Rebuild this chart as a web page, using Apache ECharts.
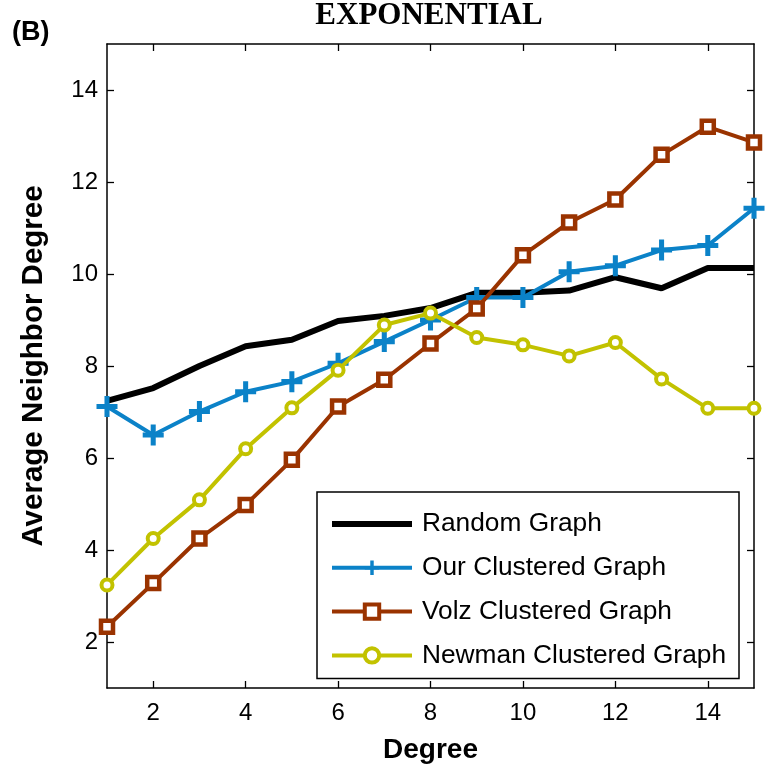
<!DOCTYPE html>
<html>
<head>
<meta charset="utf-8">
<script src="https://cdn.jsdelivr.net/npm/echarts@6/dist/echarts.min.js"></script>
<style>
html,body{margin:0;padding:0;background:#fff;}
#chart{width:767px;height:772px;}
</style>
</head>
<body>
<div id="chart"></div>
<script>
var degrees = [1,2,3,4,5,6,7,8,9,10,11,12,13,14,15];
var randomGraph = [7.24,7.52,8.0,8.43,8.57,8.98,9.09,9.26,9.59,9.59,9.64,9.93,9.69,10.13,10.13];
var ourClustered = [7.12,6.5,7.01,7.44,7.66,8.06,8.53,9.0,9.49,9.49,10.05,10.18,10.52,10.62,11.43];
var volzClustered = [2.33,3.28,4.25,4.98,5.96,7.12,7.70,8.49,9.25,10.41,11.12,11.62,12.59,13.2,12.86];
var newmanClustered = [3.24,4.25,5.09,6.2,7.09,7.91,8.89,9.15,8.62,8.46,8.22,8.51,7.72,7.08,7.08];
var xTicks = [2,4,6,8,10,12,14];
var yTicks = [2,4,6,8,10,12,14];
var seriesNames = ['Random Graph','Our Clustered Graph','Volz Clustered Graph','Newman Clustered Graph'];

function pairs(vals){ return degrees.map(function(d,i){ return [d, vals[i]]; }); }

var plusPath = 'path://M3.8,0h2.4v3.8h3.8v2.4h-3.8v3.8h-2.4v-3.8h-3.8v-2.4h3.8z';
var sans = '"Liberation Sans", Arial, Helvetica, sans-serif';
var cBlue = '#0B82C8', cRed = '#9A3300', cYel = '#C2C200';

var chart = echarts.init(document.getElementById('chart'), null, {renderer:'canvas'});
function xAxisBase(){
  return {
    type:'value', min:1, max:15, interval:1,
    axisLine:{show:true, onZero:false, lineStyle:{color:'#000', width:1.5}},
    splitLine:{show:false}
  };
}
var option = {
  animation:false,
  backgroundColor:'#fff',
  graphic:[
    {
      type:'text', left:12, top:19,
      style:{text:'(B)', fontFamily:sans, fontWeight:'bold', fontSize:27, fill:'#000'}
    },
    {
      type:'text', x:429, y:16,
      style:{text:'EXPONENTIAL', align:'center', verticalAlign:'middle',
        fontFamily:'"Liberation Serif", "Times New Roman", serif', fontWeight:'bold', fontSize:31, fill:'#000'}
    }
  ],
  grid:{left:107, right:13, top:44, bottom:84, containLabel:false},
  xAxis:[
    Object.assign(xAxisBase(), {
      position:'bottom',
      name:'Degree', nameLocation:'middle', nameGap:48,
      nameTextStyle:{fontFamily:sans, fontWeight:'bold', fontSize:28, color:'#000'},
      axisTick:{show:true, inside:true, length:7, customValues:xTicks, lineStyle:{color:'#000', width:1.3}},
      axisLabel:{show:true, customValues:xTicks, margin:13, fontFamily:sans, fontSize:24, color:'#000'}
    }),
    Object.assign(xAxisBase(), {
      position:'top',
      axisTick:{show:true, inside:true, length:7, customValues:xTicks, lineStyle:{color:'#000', width:1.3}},
      axisLabel:{show:false}
    })
  ],
  yAxis:[
    {
      type:'value', min:1, max:15, interval:1, position:'left',
      axisLine:{show:true, onZero:false, lineStyle:{color:'#000', width:1.5}},
      splitLine:{show:false},
      name:'Average Neighbor Degree', nameLocation:'middle', nameGap:58,
      nameTextStyle:{fontFamily:sans, fontWeight:'bold', fontSize:29.5, color:'#000'},
      axisTick:{show:true, inside:true, length:7, customValues:yTicks, lineStyle:{color:'#000', width:1.3}},
      axisLabel:{show:true, customValues:yTicks, margin:9, fontFamily:sans, fontSize:24, color:'#000'}
    },
    {
      type:'value', min:1, max:15, interval:1, position:'right',
      axisLine:{show:true, onZero:false, lineStyle:{color:'#000', width:1.5}},
      splitLine:{show:false},
      axisTick:{show:true, inside:true, length:7, customValues:yTicks, lineStyle:{color:'#000', width:1.3}},
      axisLabel:{show:false}
    }
  ],
  legend:{
    orient:'vertical', left:317, top:492,
    padding:[19,13,10,12],
    itemWidth:80, itemHeight:18, itemGap:17.8,
    borderColor:'#000', borderWidth:1.5, backgroundColor:'#fff',
    textStyle:{fontFamily:sans, fontSize:26.3, color:'#000', padding:[0,0,0,5]},
    data:[
      {name:seriesNames[0], itemStyle:{opacity:0}, lineStyle:{width:6, color:'#000'}},
      {name:seriesNames[1], lineStyle:{width:4, color:cBlue}},
      {name:seriesNames[2], lineStyle:{width:4, color:cRed}, itemStyle:{borderWidth:4}},
      {name:seriesNames[3], lineStyle:{width:4, color:cYel}, itemStyle:{borderWidth:4}}
    ]
  },
  series:[
    {
      name:seriesNames[0], type:'line', data:pairs(randomGraph),
      symbol:'none', lineStyle:{color:'#000', width:6}, itemStyle:{color:'#000'}, z:2
    },
    {
      name:seriesNames[1], type:'line', data:pairs(ourClustered),
      symbol:plusPath, symbolSize:21, lineStyle:{color:cBlue, width:4},
      itemStyle:{color:cBlue}, z:3
    },
    {
      name:seriesNames[2], type:'line', data:pairs(volzClustered),
      symbol:'rect', symbolSize:12, lineStyle:{color:cRed, width:4},
      itemStyle:{color:'#fff', borderColor:cRed, borderWidth:4.5}, z:4
    },
    {
      name:seriesNames[3], type:'line', data:pairs(newmanClustered),
      symbol:'circle', symbolSize:11, lineStyle:{color:cYel, width:4},
      itemStyle:{color:'#fff', borderColor:cYel, borderWidth:4}, z:5
    }
  ]
};
chart.setOption(option);
</script>
</body>
</html>
